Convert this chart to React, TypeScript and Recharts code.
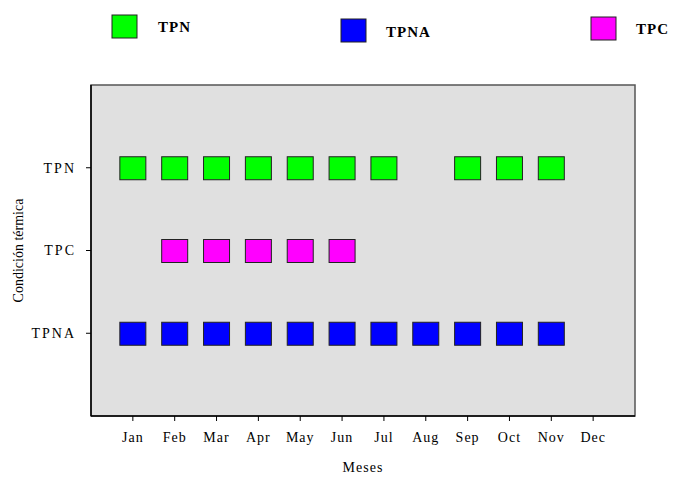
import React from "react";
import {
  ScatterChart,
  Scatter,
  XAxis,
  YAxis,
  CartesianGrid,
  ReferenceArea,
  Legend,
} from "recharts";

const months = ["Jan", "Feb", "Mar", "Apr", "May", "Jun", "Jul", "Aug", "Sep", "Oct", "Nov", "Dec"];
const conditions = ["", "TPNA", "TPC", "TPN"];

const tpnMonths = [1, 2, 3, 4, 5, 6, 7, 9, 10, 11];
const tpcMonths = [2, 3, 4, 5, 6];
const tpnaMonths = [1, 2, 3, 4, 5, 6, 7, 8, 9, 10, 11];

const tpnData = tpnMonths.map((m) => ({ mes: m, cond: 3 }));
const tpcData = tpcMonths.map((m) => ({ mes: m, cond: 2 }));
const tpnaData = tpnaMonths.map((m) => ({ mes: m, cond: 1 }));

const FONT = '"Liberation Serif", "Times New Roman", serif';

const Box = (props: any) => {
  const { cx, cy, fill } = props;
  return (
    <rect x={cx - 13} y={cy - 11} width={26} height={23} fill={fill} stroke="#222" strokeWidth={1} />
  );
};

const legendItems = [
  { label: "TPN", color: "#00FF00", bx: 112, by: 15, tx: 158, ty: 27 },
  { label: "TPNA", color: "#0000FF", bx: 341, by: 19, tx: 386, ty: 32 },
  { label: "TPC", color: "#FF00FF", bx: 591, by: 17, tx: 636, ty: 29 },
];

const LegendContent = () => (
  <svg width={673} height={60} style={{ display: "block" }}>
    {legendItems.map((it) => (
      <g key={it.label}>
        <rect x={it.bx} y={it.by} width={25} height={23} fill={it.color} stroke="#222" strokeWidth={1} />
        <text
          x={it.tx}
          y={it.ty}
          dominantBaseline="central"
          fontFamily={FONT}
          fontWeight="bold"
          fontSize={15}
          letterSpacing={1}
          fill="#000"
        >
          {it.label}
        </text>
      </g>
    ))}
  </svg>
);

export default function App() {
  return (
    <div style={{ position: "absolute", left: 0, top: 0, width: 673, height: 477, background: "#fff" }}>
      <ScatterChart width={673} height={477} margin={{ top: 25, right: 38, bottom: 0, left: 0 }}>
        <CartesianGrid fill="#E0E0E0" horizontal={false} vertical={false} />
        <ReferenceArea x1={0} x2={13} y1={0} y2={4} fill="none" stroke="#555" strokeWidth={1.5} ifOverflow="visible" />
        <XAxis
          type="number"
          dataKey="mes"
          domain={[0, 13]}
          ticks={[1, 2, 3, 4, 5, 6, 7, 8, 9, 10, 11, 12]}
          tickFormatter={(v: number) => months[v - 1]}
          height={61}
          tickSize={5}
          tickMargin={11}
          axisLine={{ stroke: "#000", strokeWidth: 1.5 }}
          tickLine={{ stroke: "#000" }}
          tick={{ fontFamily: FONT, fontSize: 14, fill: "#000", letterSpacing: 1 }}
          label={{ value: "Meses", position: "insideBottom", offset: 5, fontFamily: FONT, fontSize: 14, fill: "#000", letterSpacing: 1 }}
        />
        <YAxis
          type="number"
          dataKey="cond"
          domain={[0, 4]}
          ticks={[1, 2, 3]}
          tickFormatter={(v: number) => conditions[v]}
          width={91}
          tickSize={5}
          tickMargin={10}
          axisLine={{ stroke: "#000", strokeWidth: 1.5 }}
          tickLine={{ stroke: "#000" }}
          tick={{ fontFamily: FONT, fontSize: 14, fill: "#000", letterSpacing: 2 }}
          label={{ value: "Condición térmica", angle: -90, position: "insideLeft", offset: 18, fontFamily: FONT, fontSize: 14, fill: "#000", style: { textAnchor: "middle" } }}
        />
        <Legend
          verticalAlign="top"
          content={<LegendContent />}
          wrapperStyle={{ position: "absolute", top: 0, left: 0, width: 673, height: 60 }}
        />
        <Scatter name="TPN" data={tpnData} fill="#00FF00" shape={<Box />} isAnimationActive={false} />
        <Scatter name="TPC" data={tpcData} fill="#FF00FF" shape={<Box />} isAnimationActive={false} />
        <Scatter name="TPNA" data={tpnaData} fill="#0000FF" shape={<Box />} isAnimationActive={false} />
      </ScatterChart>
    </div>
  );
}
